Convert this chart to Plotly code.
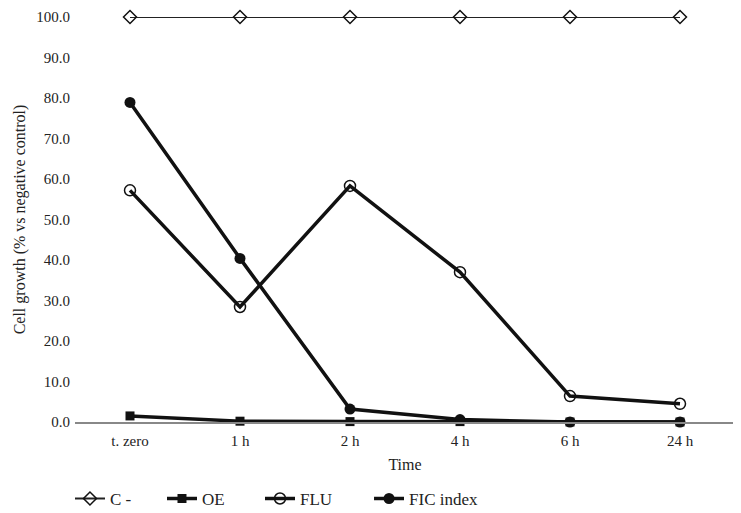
import plotly.graph_objects as go

categories = ["t. zero", "1 h", "2 h", "4 h", "6 h", "24 h"]
c_neg = [100, 100, 100, 100, 100, 100]
oe = [1.5, 0.2, 0.1, 0.1, 0.0, 0.0]
flu = [57.2, 28.4, 58.3, 37.0, 6.4, 4.5]
fic = [78.9, 40.4, 3.2, 0.6, 0.0, 0.0]

series_names = ["C -", "OE", "FLU", "FIC index"]

FONT = "Liberation Serif"
TXT = "#222"

fig = go.Figure()
fig.add_trace(go.Scatter(x=categories, y=c_neg, name=series_names[0], mode="lines+markers",
                         legend="legend",
                         line=dict(color="#222", width=2),
                         marker=dict(symbol="diamond-open", size=10, color="#111", line=dict(width=1.5))))
fig.add_trace(go.Scatter(x=categories, y=flu, name=series_names[2], mode="lines+markers",
                         legend="legend3",
                         line=dict(color="#111", width=3.5),
                         marker=dict(symbol="circle-open", size=11, color="#111", line=dict(width=1.5))))
fig.add_trace(go.Scatter(x=categories, y=fic, name=series_names[3], mode="lines+markers",
                         legend="legend4",
                         line=dict(color="#111", width=3.5),
                         marker=dict(symbol="circle", size=11, color="#111")))
fig.add_trace(go.Scatter(x=categories, y=oe, name=series_names[1], mode="lines+markers",
                         legend="legend2",
                         line=dict(color="#111", width=3.5),
                         marker=dict(symbol="square", size=9, color="#111")))

fig.update_traces(cliponaxis=False)


def leg(x):
    return dict(orientation="h", x=x, xanchor="left", y=-0.19, yanchor="middle",
                font=dict(family=FONT, size=17, color=TXT), bgcolor="rgba(0,0,0,0)")


# page body has an 8px default margin, so the figure is 733x505 and offset by 8px
fig.update_layout(
    template="none",
    width=733, height=505,
    margin=dict(l=67, r=6, t=9, b=91, pad=0, autoexpand=False),
    paper_bgcolor="white", plot_bgcolor="white",
    font=dict(family=FONT, size=15, color=TXT),
    showlegend=True,
    legend=leg(-0.0076),
    legend2=leg(0.1318),
    legend3=leg(0.2803),
    legend4=leg(0.4455),
    xaxis=dict(type="category", range=[-0.5, 5.5], showgrid=False, showline=True, linecolor="#888",
               linewidth=1.5, ticks="", automargin=False, ticklabelstandoff=4,
               tickfont=dict(family=FONT, size=15, color=TXT),
               title=dict(text="Time", font=dict(family=FONT, size=16, color=TXT), standoff=11),
               zeroline=False),
    yaxis=dict(range=[0, 100], dtick=10, tickformat=".1f", showgrid=False, showline=False,
               zeroline=False, ticks="", automargin=False, ticklabelstandoff=4,
               tickfont=dict(family=FONT, size=15, color=TXT),
               title=dict(text="Cell growth (% vs negative control)",
                          font=dict(family=FONT, size=16, color=TXT), standoff=6)),
)

fig.write_html("out.html")
